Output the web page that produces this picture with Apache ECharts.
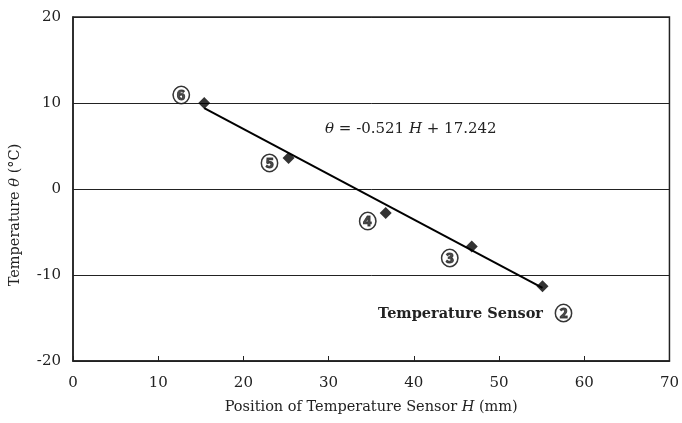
<!DOCTYPE html>
<html><head><meta charset="utf-8">
<script src="https://cdn.jsdelivr.net/npm/echarts@6/dist/echarts.min.js"></script>
<style>html,body{margin:0;padding:0;background:#fff}#c{width:682px;height:423px}</style>
</head><body><div id="c"></div>
<script>
const sensorH = [15.4, 25.3, 36.7, 46.8, 55.1];
const tempTheta = [10.0, 3.6, -2.8, -6.7, -11.3];
const sensorLabels = ['⑥', '⑤', '④', '③', '②'];
const fitH = [15.4, 55.1];
const fitTheta = [9.4, -11.5];
const xTicks = [0, 10, 20, 30, 40, 50, 60, 70];
const yTicks = [-20, -10, 0, 10, 20];

const serif = "'DejaVu Serif','Liberation Serif',serif";
const circ = "'Noto Sans CJK JP','DejaVu Sans',sans-serif";
const labelOffsets = [[-23, -8], [-19, 5], [-18, 8], [-22, 12], [21, 27]];

const chart = echarts.init(document.getElementById('c'));
chart.setOption({
  animation: false,
  backgroundColor: '#fff',
  grid: { left: 73, right: 8, top: 17, bottom: 62, show: true, borderColor: '#222', borderWidth: 1.5 },
  xAxis: {
    type: 'value', min: xTicks[0], max: xTicks[xTicks.length - 1], interval: 10,
    name: 'Position of Temperature Sensor {i|H} (mm)', nameLocation: 'middle', nameGap: 39,
    nameTextStyle: { fontFamily: serif, fontSize: 14.5, color: '#222', rich: { i: { fontFamily: serif, fontStyle: 'italic', fontSize: 14.5, color: '#222' } } },
    axisLine: { show: true, onZero: false, lineStyle: { color: '#222', width: 1.5 } },
    axisTick: { show: true, inside: true, length: 5, lineStyle: { color: '#222' } },
    axisLabel: { fontFamily: serif, fontSize: 15, color: '#222', margin: 15 },
    splitLine: { show: false }
  },
  yAxis: {
    type: 'value', min: yTicks[0], max: yTicks[yTicks.length - 1], interval: 10,
    axisLine: { show: true, onZero: false, lineStyle: { color: '#222', width: 1.5 } },
    axisTick: { show: false },
    axisLabel: { fontFamily: serif, fontSize: 15, color: '#222', margin: 12 },
    splitLine: { show: true, lineStyle: { color: '#222', width: 1 } }
  },
  graphic: [
    { type: 'text', x: 15, y: 215, rotation: Math.PI / 2,
      style: { text: 'Temperature {i|θ} (°C)', fontFamily: serif, fontSize: 14.5, fill: '#222',
        align: 'center', verticalAlign: 'middle',
        rich: { i: { fontFamily: serif, fontStyle: 'italic', fontSize: 14.5, fill: '#222' } } } },
    { type: 'text', x: 325, y: 129,
      style: { text: '{i|θ} = -0.521 {i|H} + 17.242', fontFamily: serif, fontSize: 15, fill: '#222', verticalAlign: 'middle',
        rich: { i: { fontFamily: serif, fontStyle: 'italic', fontSize: 15, fill: '#222' } } } },
    { type: 'text', x: 378, y: 314,
      style: { text: 'Temperature Sensor', fontFamily: serif, fontSize: 14.5, fontWeight: 'bold', fill: '#222', verticalAlign: 'middle' } }
  ],
  series: [
    { type: 'line', data: fitH.map((h, i) => [h, fitTheta[i]]), symbol: 'none',
      lineStyle: { color: '#000', width: 2 }, z: 2 },
    { type: 'scatter', symbol: 'diamond', symbolSize: 12,
      itemStyle: { color: '#000' }, z: 3,
      data: sensorH.map((h, i) => ({
        value: [h, tempTheta[i]],
        label: { show: true, formatter: sensorLabels[i], offset: labelOffsets[i], position: 'inside',
          fontFamily: circ, fontSize: 18, fontWeight: 'bold', color: '#222',
          textBorderColor: '#222', textBorderWidth: 0.9 }
      })) }
  ]
});
</script></body></html>
